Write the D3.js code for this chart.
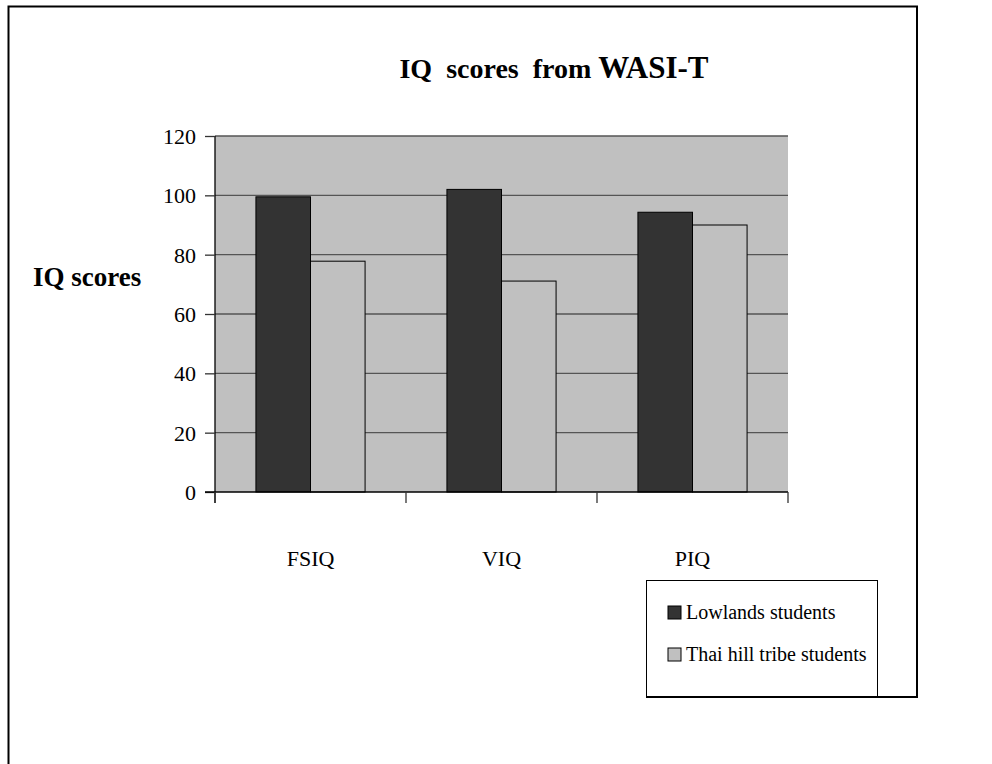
<!DOCTYPE html>
<html><head><meta charset="utf-8">
<script src="https://cdn.jsdelivr.net/npm/d3@7"></script>
<style>body{margin:0;background:#fff}svg{display:block}</style>
</head><body>
<svg id="c" width="992" height="764"></svg>
<script>
const categories = ["FSIQ", "VIQ", "PIQ"];
const seriesNames = ["Lowlands students", "Thai hill tribe students"];
const lowlands = [99.5, 102, 94.3];
const thai = [77.8, 71.1, 90];
const yTicks = [0, 20, 40, 60, 80, 100, 120];

const svg = d3.select("#c");
const font = "'Liberation Serif', 'Times New Roman', serif";
const L = 215, R = 788, T = 136, B = 492;
const colors = ["#333333", "#c0c0c0"];

// outer frame
const frame = svg.append("g").attr("stroke", "#000").attr("stroke-width", 2).attr("fill", "none");
frame.append("path").attr("d", "M8.5,764V6.5H917V697H646");

const x = d3.scaleBand().domain(categories).range([L, R]).paddingInner(0).paddingOuter(0);
const y = d3.scaleLinear().domain([0, 120]).range([B, T]);
const xs = d3.scaleBand().domain([0, 1]).range([0, x.bandwidth()]).paddingOuter(0.75).paddingInner(0);

// plot area
svg.append("rect").attr("x", L).attr("y", T).attr("width", R - L).attr("height", B - T).attr("fill", "#c0c0c0");

// gridlines
svg.append("g").selectAll("line").data(yTicks.filter(d => d > 0)).join("line")
  .attr("x1", L).attr("x2", R).attr("y1", d => y(d)).attr("y2", d => y(d))
  .attr("stroke", "#555").attr("stroke-width", 1.3);

// bars
const data = [lowlands, thai];
data.forEach((vals, si) => {
  svg.append("g").selectAll("rect").data(vals).join("rect")
    .attr("x", (d, i) => x(categories[i]) + xs(si))
    .attr("y", d => y(d))
    .attr("width", xs.bandwidth())
    .attr("height", d => B - y(d))
    .attr("fill", colors[si])
    .attr("stroke", "#000").attr("stroke-width", 1);
});

// y axis
const ya = svg.append("g").attr("transform", `translate(${L},0)`)
  .call(d3.axisLeft(y).tickValues(yTicks).tickSize(10).tickPadding(9).tickFormat(d3.format("d")));
ya.select(".domain").attr("stroke", "#000").attr("stroke-width", 1.3).attr("d", `M0,${T}V${B + 11}`);
ya.selectAll(".tick line").attr("stroke", "#333").attr("stroke-width", 1.3);
ya.selectAll("text").attr("font-family", font).attr("font-size", 22).attr("fill", "#000").attr("dy", "0.34em");

// x axis
const xa = svg.append("g").attr("transform", `translate(0,${B})`);
xa.append("line").attr("x1", L - 10).attr("x2", R).attr("y1", 0).attr("y2", 0).attr("stroke", "#000").attr("stroke-width", 1.5);
const bounds = categories.map(c => x(c)).concat([R]);
xa.selectAll(".tk").data(bounds).join("line").attr("class", "tk")
  .attr("x1", d => d).attr("x2", d => d).attr("y1", 0).attr("y2", 11)
  .attr("stroke", "#333").attr("stroke-width", 1.3);
svg.append("g").selectAll("text").data(categories).join("text")
  .attr("x", d => x(d) + x.bandwidth() / 2).attr("y", 566)
  .attr("text-anchor", "middle").attr("font-family", font).attr("font-size", 22).text(d => d);

// title
const title = svg.append("text").attr("x", 554).attr("y", 78).attr("text-anchor", "middle")
  .attr("font-family", font).attr("font-weight", "bold").attr("xml:space", "preserve");
title.append("tspan").attr("font-size", 28).text("IQ\u00a0\u00a0scores\u00a0\u00a0from ");
title.append("tspan").attr("font-size", 31).text("WASI-T");

// y label
svg.append("text").attr("x", 33).attr("y", 286).attr("font-family", font)
  .attr("font-weight", "bold").attr("font-size", 27).text("IQ scores");

// legend
svg.append("rect").attr("x", 646.5).attr("y", 580.5).attr("width", 231).attr("height", 116)
  .attr("fill", "#fff").attr("stroke", "#000").attr("stroke-width", 1);
const lg = svg.append("g").selectAll("g").data(seriesNames).join("g")
  .attr("transform", (d, i) => `translate(668,${606 + i * 42})`);
lg.append("rect").attr("width", 13).attr("height", 13).attr("fill", (d, i) => colors[i])
  .attr("stroke", "#000").attr("stroke-width", 1);
lg.append("text").attr("x", 18).attr("y", 13).attr("font-family", font).attr("font-size", 20).text(d => d);
</script>
</body></html>
